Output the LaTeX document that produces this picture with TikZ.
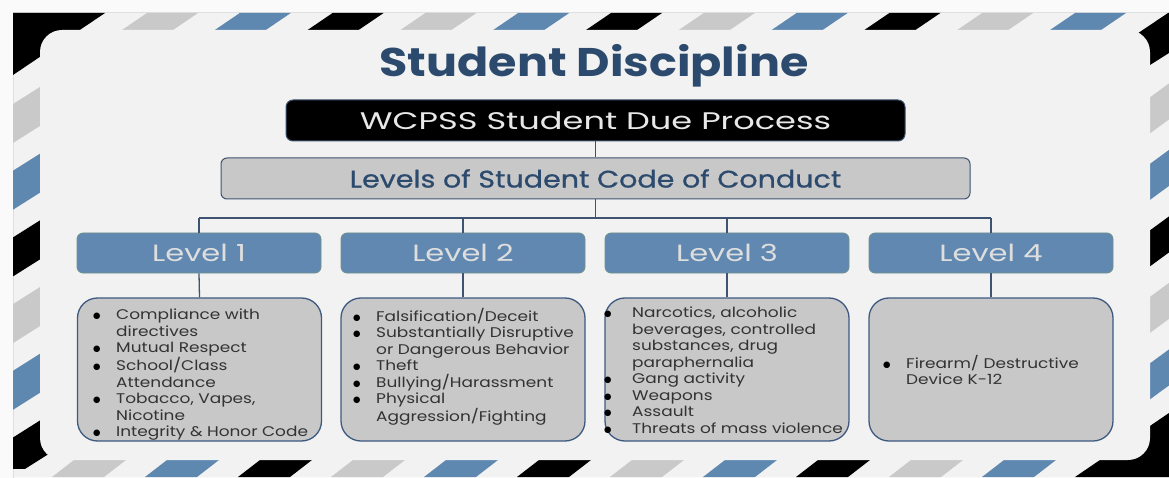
\documentclass[tikz,border=0pt]{standalone}
\usepackage{fontspec}
\setmainfont{Poppins}
\newfontfamily\fList[FakeStretch=1.21]{Poppins}
\newfontfamily\fCond[FakeStretch=1.19,FakeBold=0.7]{Poppins}
\newfontfamily\fWide[FakeStretch=1.40]{Poppins}
\newfontfamily\fLvl[FakeStretch=1.30]{Poppins}
\newfontfamily\fTitle[FakeStretch=1.15]{Poppins}
\newfontfamily\dv{DejaVu Sans}
\definecolor{bgc}{HTML}{F2F2F2}
\definecolor{pagec}{HTML}{FAFAFA}
\definecolor{sgray}{HTML}{C9C9C9}
\definecolor{sblue}{HTML}{5F88B0}
\definecolor{navy}{HTML}{2C4A6D}
\definecolor{lvlfill}{HTML}{6088B0}
\definecolor{lvlline}{HTML}{71918F}
\definecolor{lvltext}{HTML}{DEDEDE}
\definecolor{boxfill}{HTML}{C8C8C8}
\definecolor{boxline}{HTML}{3E5A80}
\definecolor{connc}{HTML}{3E5372}
\definecolor{txt}{HTML}{333333}
\definecolor{wtext}{HTML}{E8E8E8}
\newcommand{\mydot}{\raisebox{1.3pt}{\dv\fontsize{8.5}{8.5}\selectfont\color{black}●}}
\newcommand{\bl}{\makebox[23pt][l]{\mydot}}
\newcommand{\cl}{\hspace*{23pt}}
\newcommand{\blw}{\makebox[28pt][l]{\mydot}}
\newcommand{\clw}{\hspace*{28pt}}
\begin{document}
\begin{tikzpicture}[x=1pt,y=-1pt,
  conn/.style={draw=connc, line width=1.3pt},
  lvlbox/.style={fill=lvlfill, draw=lvlline, line width=0.8pt, rounded corners=6pt,
    minimum width=244pt, minimum height=40pt, inner sep=0pt, text=lvltext,
    font=\fLvl\fontsize{23.5}{23.5}\selectfont},
  descbox/.style={fill=boxfill, draw=boxline, line width=1.3pt, rounded corners=20pt,
    minimum width=244pt, minimum height=143pt, inner sep=0pt},
  listtxt/.style={anchor=north west, inner sep=0pt, align=left, text=txt,
    font=\fList\fontsize{14}{16.5}\selectfont}]
\useasboundingbox (0,0) rectangle (1169,478);
% page and frame
\fill[pagec] (0,0) rectangle (1169,478);
\fill[bgc] (13,12) rectangle (1169,477);
\draw[gray!25, line width=0.8pt] (13,478) -- (13,12) -- (1169,12);
% top band
\begin{scope}
\clip (13,13) rectangle (1169,30);
\foreach \k in {0,...,10}{
  \pgfmathtruncatemacro{\m}{mod(\k,3)}
  \pgfmathsetmacro{\xa}{122+92.8*\k}
  \ifcase\m \def\sc{sgray}\or \def\sc{sblue}\or \def\sc{black}\fi
  \fill[\sc] (\xa,30) -- (\xa+51,30) -- (\xa+76,13) -- (\xa+25,13) -- cycle;
}
\end{scope}
% left band
\begin{scope}
\clip (13,30) rectangle (70,468);
\foreach \k in {0,...,5}{
  \pgfmathtruncatemacro{\m}{mod(\k,3)}
  \pgfmathsetmacro{\ya}{104+66.7*\k}
  \ifcase\m \def\sc{sgray}\or \def\sc{sblue}\or \def\sc{black}\fi
  \fill[\sc] (13,\ya) -- (70,\ya-36) -- (70,\ya+3) -- (13,\ya+39) -- cycle;
}
\end{scope}
% right band
\begin{scope}
\clip (1150,30) rectangle (1169,460);
\foreach \k in {0,...,4}{
  \pgfmathtruncatemacro{\m}{mod(\k,3)}
  \pgfmathsetmacro{\ya}{97+66.5*\k}
  \ifcase\m \def\sc{sgray}\or \def\sc{sblue}\or \def\sc{black}\fi
  \fill[\sc] (1130,\ya+15) -- (1175,\ya-18) -- (1175,\ya+18) -- (1130,\ya+51) -- cycle;
}
\end{scope}
% bottom band
\begin{scope}
\clip (46,460) rectangle (1169,477);
\foreach \k in {0,...,10}{
  \pgfmathtruncatemacro{\m}{mod(\k,3)}
  \pgfmathsetmacro{\xa}{52+93*\k}
  \ifcase\m \def\sc{sgray}\or \def\sc{sblue}\or \def\sc{black}\fi
  \fill[\sc] (\xa,477) -- (\xa+52,477) -- (\xa+74,460) -- (\xa+22,460) -- cycle;
}
\end{scope}
% corners
\fill[black] (13,13) -- (105,13) -- (13,75) -- cycle;
\fill[black] (1113,50) -- (1168,13) -- (1169,13) -- (1169,53) -- (1150,65) -- (1120,85) -- cycle;
\fill[black] (1075,477) -- (1169,477) -- (1169,413) -- cycle;
% inner panel
\fill[bgc] (40,30) [rounded corners=22pt] rectangle (1150,460);
% title
\node[font=\fTitle\bfseries\fontsize{40}{40}\selectfont, text=navy, inner sep=0pt] (title) at (594,66) {Student Discipline};
\node[fill=black, draw=connc, line width=1pt, rounded corners=7pt, minimum width=619pt,
  minimum height=41pt, text=wtext, font=\fWide\fontsize{24}{24}\selectfont] (wc) at (595.5,120.5) {WCPSS Student Due Process};
\node[fill=boxfill, draw=connc, line width=1pt, rounded corners=6pt, minimum width=749pt,
  minimum height=41pt, text=navy, font=\fCond\fontsize{24}{24}\selectfont] (cc) at (595.5,178.5) {Levels of Student Code of Conduct};
% levels
\node[lvlbox] (l1) at (199,253) {Level 1};
\node[lvlbox] (l2) at (463,253) {Level 2};
\node[lvlbox] (l3) at (727,253) {Level 3};
\node[lvlbox] (l4) at (991,253) {Level 4};
% description boxes
\node[descbox] (d1) at (199.5,369.5) {};
\node[descbox] (d2) at (463,369.5) {};
\node[descbox] (d3) at (727,369.5) {};
\node[descbox] (d4) at (991,369.5) {};
% connectors
\coordinate (barL) at (199,218);
\coordinate (barR) at (991,218);
\draw[conn] (wc.south) -- (cc.north);
\draw[conn] (cc.south) -- (cc.south |- barL);
\draw[conn] (barL) -- (barR);
\draw[conn] (barL) -- (l1.north);
\draw[conn] (l2.north |- barL) -- (l2.north);
\draw[conn] (l3.north |- barL) -- (l3.north);
\draw[conn] (barR) -- (l4.north);
\draw[conn] (l1.south) -- (d1.north);
\draw[conn] (l2.south) -- (d2.north);
\draw[conn] (l3.south) -- (d3.north);
\draw[conn] (l4.south) -- (d4.north);
% lists
\node[listtxt] (t1) at (93,309) {\bl Compliance with\\ \cl directives\\ \bl Mutual Respect\\ \bl School/Class\\ \cl Attendance\\ \bl Tobacco, Vapes,\\ \cl Nicotine\\ \bl Integrity \& Honor Code};
\node[listtxt] (t2) at (353,308) {\bl Falsification/Deceit\\ \bl Substantially Disruptive\\ \cl or Dangerous Behavior\\ \bl Theft\\ \bl Bullying/Harassment\\ \bl Physical\\ \cl Aggression/Fighting};
\node[listtxt] (t3) at (604,307) {\blw Narcotics, alcoholic\\ \clw beverages, controlled\\ \clw substances, drug\\ \clw paraphernalia\\ \blw Gang activity\\ \blw Weapons\\ \blw Assault\\ \blw Threats of mass violence};
\node[listtxt] (t4) at (883,355) {\bl Firearm/ Destructive\\ \cl Device K-12};
\end{tikzpicture}
\end{document}
